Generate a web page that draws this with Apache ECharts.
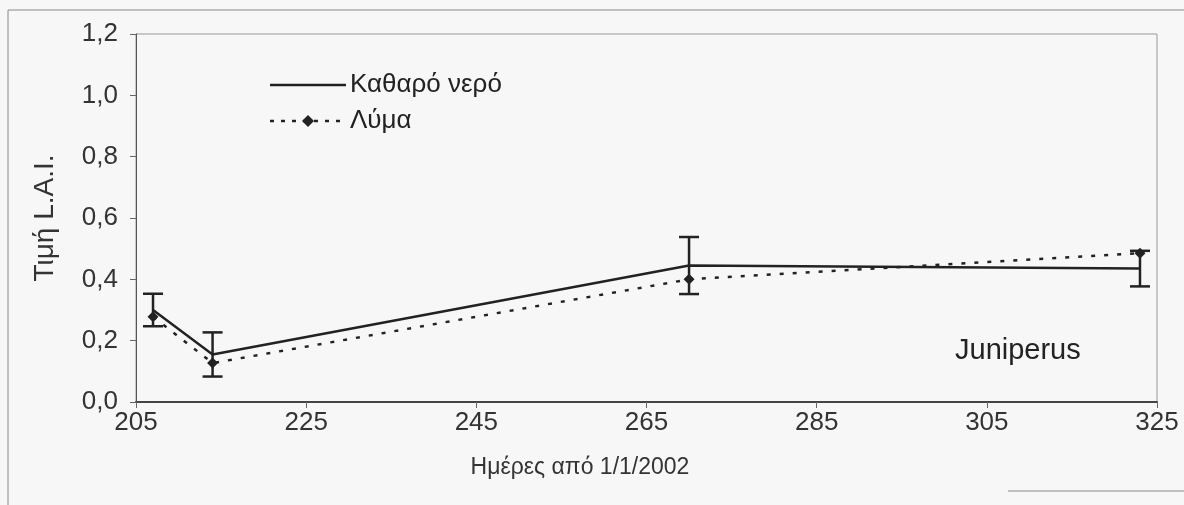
<!DOCTYPE html>
<html>
<head>
<meta charset="utf-8">
<script src="https://cdn.jsdelivr.net/npm/echarts@6/dist/echarts.min.js"></script>
<style>
html,body{margin:0;padding:0;background:#f7f7f7;}
#chart{width:1184px;height:505px;}
</style>
</head>
<body>
<div id="chart"></div>
<script>
// Data
const DAY0 = 205;
const days = [207, 214, 270, 323];
const cleanWater = [0.30, 0.155, 0.445, 0.435];     // Καθαρό νερό
const cleanWaterErr = [0.053, 0.072, 0.093, 0.058];  // error half-width
const sewage = [0.278, 0.127, 0.40, 0.485];          // Λύμα
const seriesNames = ['Καθαρό νερό', 'Λύμα'];
const xTickLabels = ['205','225','245','265','285','305','325'];
const yTickLabels = ['0,0','0,2','0,4','0,6','0,8','1,0','1,2'];

const FONT = '"Liberation Sans", Arial, sans-serif';
const chart = echarts.init(document.getElementById('chart'));

const lineData = days.map((d,i)=>[d-DAY0, cleanWater[i]]);
const sewData = days.map((d,i)=>[d-DAY0, sewage[i]]);
const errData = days.map((d,i)=>[d-DAY0, cleanWater[i]-cleanWaterErr[i], cleanWater[i]+cleanWaterErr[i]]);

const INK = '#222';
chart.setOption({
  backgroundColor: '#f7f7f7',
  animation: false,
  grid: {left: 136, right: 27, top: 34, bottom: 103, show: true, borderColor: '#999', borderWidth: 1, backgroundColor: 'transparent'},
  xAxis: {
    type: 'value', min: 0, max: 120, interval: 20,
    axisLine: {show: true, lineStyle: {color: '#444', width: 2}},
    axisTick: {show: true, length: 6, lineStyle: {color: '#666'}},
    splitLine: {show: false},
    axisLabel: {fontFamily: FONT, fontSize: 26, color: '#333', margin: 8,
      formatter: v => xTickLabels[Math.round(v/20)]}
  },
  yAxis: {
    type: 'value', min: 0, max: 1.2, interval: 0.2,
    axisLine: {show: true, lineStyle: {color: '#555', width: 1}},
    axisTick: {show: true, length: 6, lineStyle: {color: '#666'}},
    splitLine: {show: false},
    axisLabel: {fontFamily: FONT, fontSize: 26, color: '#333', margin: 18,
      formatter: v => yTickLabels[Math.round(v/0.2)]}
  },
  series: [
    {
      name: seriesNames[0], type: 'line', data: lineData, symbol: 'none',
      lineStyle: {color: INK, width: 2.5}, itemStyle: {color: INK}, z: 3
    },
    {
      name: seriesNames[1], type: 'line', data: sewData, symbol: 'diamond', symbolSize: 11,
      lineStyle: {color: INK, width: 2.5, type: [4, 9]}, itemStyle: {color: INK}, z: 2
    },
    {
      name: 'err', type: 'custom', data: errData, z: 4,
      renderItem: (params, api) => {
        const x = api.value(0);
        const lo = api.coord([x, api.value(1)]);
        const hi = api.coord([x, api.value(2)]);
        const hw = 10;
        const st = {stroke: INK, lineWidth: 2.5, fill: null};
        return {type: 'group', children: [
          {type: 'line', shape: {x1: lo[0], y1: lo[1], x2: hi[0], y2: hi[1]}, style: st},
          {type: 'line', shape: {x1: lo[0]-hw, y1: lo[1], x2: lo[0]+hw, y2: lo[1]}, style: st},
          {type: 'line', shape: {x1: hi[0]-hw, y1: hi[1], x2: hi[0]+hw, y2: hi[1]}, style: st}
        ]};
      }
    }
  ],
  graphic: [
    {type: 'line', shape: {x1: 8, y1: 10, x2: 1184, y2: 10}, style: {stroke: '#888', lineWidth: 1}},
    {type: 'line', shape: {x1: 8, y1: 10, x2: 8, y2: 505}, style: {stroke: '#888', lineWidth: 1}},
    {type: 'line', shape: {x1: 1008, y1: 491, x2: 1184, y2: 491}, style: {stroke: '#888', lineWidth: 1}},
    // legend
    {type: 'line', shape: {x1: 270, y1: 85, x2: 346, y2: 85}, style: {stroke: INK, lineWidth: 2.5}},
    {type: 'text', x: 350, y: 85, style: {text: seriesNames[0], fontFamily: FONT, fontSize: 26, fill: '#222', verticalAlign: 'middle'}},
    {type: 'line', shape: {x1: 270, y1: 121, x2: 346, y2: 121}, style: {stroke: INK, lineWidth: 2.5, lineDash: [4, 7]}},
    {type: 'polygon', shape: {points: [[308,115],[314,121],[308,127],[302,121]]}, style: {fill: INK}},
    {type: 'text', x: 350, y: 121, style: {text: seriesNames[1], fontFamily: FONT, fontSize: 26, fill: '#222', verticalAlign: 'middle'}},
    {type: 'text', x: 955, y: 351, style: {text: 'Juniperus', fontFamily: FONT, fontSize: 29, fill: '#222', verticalAlign: 'middle'}},
    {type: 'text', x: 580, y: 468, style: {text: 'Ημέρες από 1/1/2002', fontFamily: FONT, fontSize: 23, fill: '#333', align: 'center', verticalAlign: 'middle'}},
    {type: 'text', x: 45, y: 218, rotation: Math.PI/2, style: {text: 'Τιμή L.A.I.', fontFamily: FONT, fontSize: 28, fill: '#333', align: 'center', verticalAlign: 'middle'}}
  ]
});
</script>
</body>
</html>
